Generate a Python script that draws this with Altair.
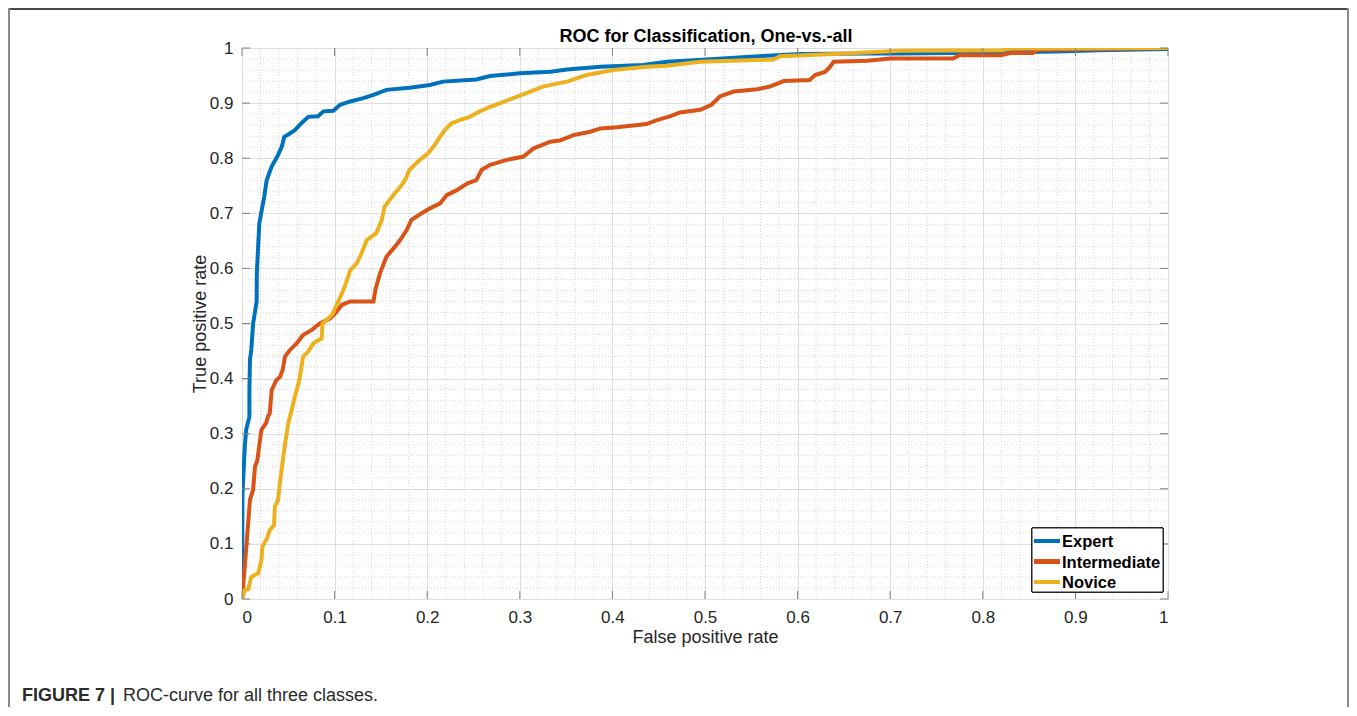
import altair as alt
import pandas as pd

# ---------------- data ----------------
classes = ["Expert", "Intermediate", "Novice"]
colors = ["#0072BD", "#D95319", "#EDB120"]

expert_fpr = [0, 0.0005, 0.003, 0.0045, 0.008, 0.008, 0.0086, 0.010, 0.012, 0.0158, 0.016,
              0.0187, 0.022, 0.024, 0.0266, 0.032, 0.039, 0.043, 0.0457, 0.050, 0.057, 0.0644,
              0.0716, 0.082, 0.088, 0.0986, 0.106, 0.117, 0.131, 0.142, 0.156, 0.181, 0.203,
              0.217, 0.253, 0.268, 0.300, 0.333, 0.351, 0.387, 0.433, 0.459, 0.502, 0.549,
              0.577, 0.603, 0.675, 0.711, 0.765, 0.82, 0.89, 0.925, 1.0, 1.0]
expert_tpr = [0, 0.19, 0.276, 0.307, 0.331, 0.38, 0.434, 0.452, 0.50, 0.54, 0.591,
              0.682, 0.712, 0.730, 0.760, 0.785, 0.806, 0.821, 0.839, 0.843, 0.851, 0.864,
              0.875, 0.876, 0.885, 0.886, 0.897, 0.903, 0.909, 0.915, 0.924, 0.928, 0.933,
              0.939, 0.943, 0.949, 0.954, 0.957, 0.961, 0.966, 0.969, 0.975, 0.979, 0.984,
              0.987, 0.989, 0.990, 0.990, 0.991, 0.992, 0.994, 0.996, 0.998, 1.0]

inter_fpr = [0, 0.003, 0.0058, 0.0086, 0.012, 0.014, 0.0166, 0.019, 0.021, 0.026, 0.028,
             0.030, 0.032, 0.037, 0.041, 0.044, 0.0464, 0.0518, 0.059, 0.066, 0.075, 0.084,
             0.095, 0.1004, 0.108, 0.117, 0.142, 0.144, 0.149, 0.156, 0.165, 0.171, 0.178,
             0.183, 0.194, 0.203, 0.214, 0.221, 0.232, 0.243, 0.253, 0.259, 0.268, 0.286,
             0.304, 0.315, 0.333, 0.343, 0.358, 0.376, 0.387, 0.405, 0.437, 0.448, 0.462,
             0.473, 0.495, 0.507, 0.516, 0.531, 0.556, 0.570, 0.585, 0.613, 0.619, 0.63,
             0.635, 0.639, 0.675, 0.689, 0.70, 0.768, 0.775, 0.82, 0.83, 0.854, 0.86, 1.0]
inter_tpr = [0, 0.059, 0.119, 0.18, 0.198, 0.24, 0.252, 0.283, 0.307, 0.319, 0.331,
             0.337, 0.379, 0.397, 0.403, 0.416, 0.44, 0.452, 0.464, 0.479, 0.488, 0.50,
             0.509, 0.518, 0.534, 0.54, 0.54, 0.561, 0.591, 0.621, 0.639, 0.652, 0.67,
             0.688, 0.70, 0.709, 0.718, 0.733, 0.742, 0.754, 0.76, 0.779, 0.788, 0.797,
             0.803, 0.818, 0.83, 0.832, 0.842, 0.848, 0.854, 0.856, 0.862, 0.869, 0.876,
             0.883, 0.888, 0.897, 0.912, 0.921, 0.925, 0.930, 0.94, 0.942, 0.951, 0.957,
             0.966, 0.975, 0.977, 0.979, 0.981, 0.981, 0.987, 0.987, 0.991, 0.991, 0.997, 1.0]

novice_fpr = [0, 0.003, 0.0068, 0.010, 0.0176, 0.021, 0.022, 0.027, 0.030, 0.0346, 0.0355,
              0.039, 0.0405, 0.0446, 0.046, 0.050, 0.0536, 0.057, 0.061, 0.0625, 0.066,
              0.0716, 0.077, 0.086, 0.087, 0.095, 0.098, 0.1004, 0.104, 0.111, 0.117, 0.124,
              0.129, 0.135, 0.145, 0.151, 0.154, 0.162, 0.171, 0.176, 0.181, 0.192, 0.201,
              0.208, 0.214, 0.219, 0.226, 0.235, 0.246, 0.257, 0.268, 0.279, 0.293, 0.307,
              0.325, 0.351, 0.372, 0.401, 0.437, 0.459, 0.495, 0.574, 0.581, 0.639, 0.711,
              0.82, 0.83, 1.0]
novice_tpr = [0, 0.016, 0.018, 0.04, 0.047, 0.071, 0.095, 0.11, 0.125, 0.134, 0.168,
              0.18, 0.204, 0.258, 0.276, 0.319, 0.343, 0.367, 0.391, 0.403, 0.44,
              0.449, 0.464, 0.473, 0.50, 0.512, 0.518, 0.527, 0.54, 0.567, 0.597, 0.609,
              0.627, 0.652, 0.664, 0.688, 0.712, 0.73, 0.748, 0.76, 0.779, 0.797, 0.809,
              0.824, 0.839, 0.851, 0.863, 0.869, 0.875, 0.885, 0.893, 0.90, 0.909, 0.918,
              0.93, 0.939, 0.951, 0.96, 0.966, 0.968, 0.975, 0.979, 0.985, 0.989, 0.995,
              0.996, 0.999, 1.0]

tick_values = [0, 0.1, 0.2, 0.3, 0.4, 0.5, 0.6, 0.7, 0.8, 0.9, 1.0]
minor_values = [round(i * 0.02, 2) for i in range(1, 50) if i % 5 != 0]

title_text = "ROC for Classification, One-vs.-all"
x_title = "False positive rate"
y_title = "True positive rate"
caption_bold = "FIGURE 7 |"
caption_rest = "ROC-curve for all three classes."

# ---------------- layout ----------------
W, H = 926, 551
FONT = "Liberation Sans"
AX = "#808080"

xs = alt.Scale(domain=[0, 1], nice=False, zero=False)
ys = alt.Scale(domain=[0, 1], nice=False, zero=False)

series = [(expert_fpr, expert_tpr), (inter_fpr, inter_tpr), (novice_fpr, novice_tpr)]

minor_df = pd.DataFrame({"v": minor_values})
tick_df = pd.DataFrame({"v": tick_values})

xaxis = alt.Axis(values=tick_values, format=".1~f", grid=True, gridColor="#dedede",
                 domain=False, ticks=False, labelFont=FONT, labelFontSize=17,
                 labelColor="#262626", labelPadding=10, title=x_title, titleFont=FONT,
                 titleFontSize=18, titleFontWeight="normal", titleColor="#262626",
                 titlePadding=3)
yaxis = alt.Axis(values=tick_values, format=".1~f", grid=True, gridColor="#dedede",
                 domain=False, ticks=False, labelFont=FONT, labelFontSize=17,
                 labelColor="#262626", labelPadding=9, title=y_title, titleFont=FONT,
                 titleFontSize=18, titleFontWeight="normal", titleColor="#262626",
                 titlePadding=0)

base_axes = alt.Chart(tick_df).mark_rule(opacity=0).encode(
    x=alt.X("v:Q", scale=xs, axis=xaxis),
    y=alt.Y("v:Q", scale=ys, axis=yaxis),
)

minor_v = alt.Chart(minor_df).mark_rule(color="#d6d6d6", strokeDash=[1, 2], strokeWidth=1).encode(
    x=alt.X("v:Q", scale=xs), y=alt.value(0), y2=alt.value(H))
minor_h = alt.Chart(minor_df).mark_rule(color="#d6d6d6", strokeDash=[1, 2], strokeWidth=1).encode(
    y=alt.Y("v:Q", scale=ys), x=alt.value(0), x2=alt.value(W))

TL = 8
ticks = [
    alt.Chart(tick_df).mark_rule(color=AX).encode(x=alt.X("v:Q", scale=xs), y=alt.value(H), y2=alt.value(H - TL)),
    alt.Chart(tick_df).mark_rule(color=AX).encode(x=alt.X("v:Q", scale=xs), y=alt.value(0), y2=alt.value(TL)),
    alt.Chart(tick_df).mark_rule(color=AX).encode(y=alt.Y("v:Q", scale=ys), x=alt.value(0), x2=alt.value(TL)),
    alt.Chart(tick_df).mark_rule(color=AX).encode(y=alt.Y("v:Q", scale=ys), x=alt.value(W), x2=alt.value(W - TL)),
]

lines = []
for name, col, (fx, ty) in zip(classes, colors, series):
    df = pd.DataFrame({"fpr": fx, "tpr": ty, "order": range(len(fx))})
    lines.append(
        alt.Chart(df).mark_line(color=col, strokeWidth=4, clip=True).encode(
            x=alt.X("fpr:Q", scale=xs), y=alt.Y("tpr:Q", scale=ys), order="order:Q")
    )

# legend (manual)
LX, LY = 790, 480
legend_box = alt.Chart(tick_df).mark_rect(fill="white", stroke="#262626", strokeWidth=1).encode(
    x=alt.value(LX), x2=alt.value(LX + 131), y=alt.value(LY), y2=alt.value(LY + 64))
legend_items = []
for i, (name, col) in enumerate(zip(classes, colors)):
    yy = LY + 13 + i * 20.5
    legend_items.append(alt.Chart(tick_df).mark_rule(color=col, strokeWidth=4).encode(
        x=alt.value(LX + 2), x2=alt.value(LX + 28), y=alt.value(yy)))
    legend_items.append(alt.Chart(pd.DataFrame({"t": [name]})).mark_text(
        align="left", baseline="middle", font=FONT, fontSize=16.5, fontWeight="bold", color="#000000"
    ).encode(text="t:N", x=alt.value(LX + 30), y=alt.value(yy + 1)))

# title (as text so the outer frame does not push it away)
title_mark = alt.Chart(pd.DataFrame({"t": [title_text]})).mark_text(
    align="center", baseline="alphabetic", font=FONT, fontSize=18, fontWeight="bold", color="#000000"
).encode(text="t:N", x=alt.value(W / 2 + 1), y=alt.value(-6))

# outer figure frame and caption
frame = [
    alt.Chart(tick_df).mark_rule(color="#4a4a4a", strokeWidth=2).encode(
        x=alt.value(-234), x2=alt.value(1107), y=alt.value(-39)),
    alt.Chart(tick_df).mark_rule(color="#8a8a8a", strokeWidth=2).encode(
        x=alt.value(-233), y=alt.value(-40), y2=alt.value(660)),
    alt.Chart(tick_df).mark_rule(color="#8a8a8a", strokeWidth=2).encode(
        x=alt.value(1106), y=alt.value(-40), y2=alt.value(660)),
]
caption = [
    alt.Chart(pd.DataFrame({"t": [caption_bold]})).mark_text(
        align="left", baseline="alphabetic", font=FONT, fontSize=18, fontWeight="bold", color="#2b2b2b"
    ).encode(text="t:N", x=alt.value(-220), y=alt.value(653)),
    alt.Chart(pd.DataFrame({"t": [caption_rest]})).mark_text(
        align="left", baseline="alphabetic", font=FONT, fontSize=18, fontWeight="normal", color="#2b2b2b"
    ).encode(text="t:N", x=alt.value(-119), y=alt.value(653)),
]

chart = alt.layer(
    base_axes, minor_v, minor_h, *lines, *ticks, legend_box, *legend_items, title_mark,
    *frame, *caption
).properties(
    width=W, height=H,
    padding={"left": 234, "top": 40, "right": 181, "bottom": 108},
    autosize=alt.AutoSizeParams(type="none"),
).configure_view(stroke=AX, strokeWidth=1).configure(background="white")

chart.save("out.html", embed_options={"renderer": "svg", "actions": False})
